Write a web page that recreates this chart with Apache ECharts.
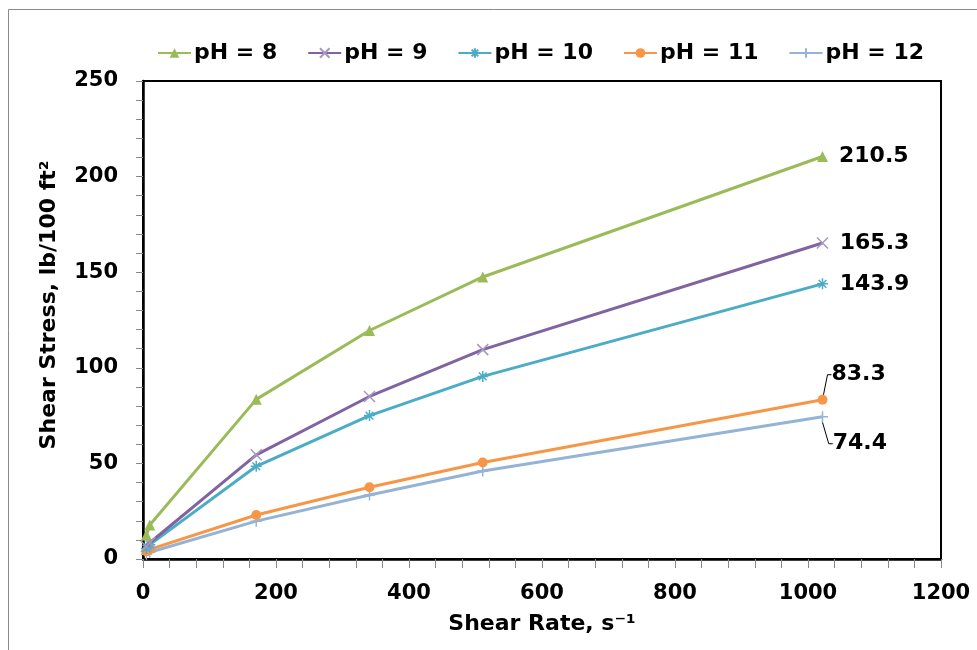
<!DOCTYPE html>
<html>
<head>
<meta charset="utf-8">
<script src="https://cdn.jsdelivr.net/npm/echarts@6/dist/echarts.min.js"></script>
<style>
  html, body { margin: 0; padding: 0; background: #fff; }
  #chart { width: 977px; height: 650px; }
</style>
</head>
<body>
<div id="chart"></div>
<script>
// shear rates (s^-1) from viscometer readings
const shearRate = [5.11, 10.22, 170.3, 340.6, 510.9, 1021.8]
const names = ['pH = 8', 'pH = 9', 'pH = 10', 'pH = 11', 'pH = 12']
const ph8 = [12.5, 17.8, 83.5, 119.5, 147.5, 210.5]
const ph9 = [6.5, 8.5, 54.5, 85, 109.5, 165.3]
const ph10 = [5.5, 7.5, 48.5, 75, 95.5, 143.9]
const ph11 = [4, 5, 23, 37.5, 50.5, 83.3]
const ph12 = [2.5, 3.5, 19.8, 33.5, 46, 74.4]
const xTicks = [0, 200, 400, 600, 800, 1000, 1200]
const yTicks = [0, 50, 100, 150, 200, 250]

const FONT = 'DejaVu Sans'
const colors = ['#9BBB59', '#8064A2', '#4BACC6', '#F79646', '#95B3D7']
const markColors = ['#9BBB59', '#A898C0', '#4BACC6', '#F79646', '#95B3D7']
const symbols = [
  'triangle',
  'path://M0,0L10,10M10,0L0,10',
  'path://M5,0L5,10M0,5L10,5M1.5,1.5L8.5,8.5M8.5,1.5L1.5,8.5',
  'circle',
  'path://M5,0L5,10M0,5L10,5'
]
const sizes = [11, 11, 11, 10, 11]
// how the end label of each series sits next to its point
const endLabel = [
  { dy: 0, line: false },
  { dy: 0, line: false },
  { dy: 0, line: false },
  { dy: -25, line: true },
  { dy: 27, line: true }
]

const chart = echarts.init(document.getElementById('chart'))

function makeSeries(values, i) {
  const filled = symbols[i] === 'triangle' || symbols[i] === 'circle'
  const data = values.map((v, k) => {
    const d = { value: [shearRate[k], v] }
    if (k === values.length - 1) {
      d.label = {
        show: true,
        position: 'right',
        distance: endLabel[i].line ? 4 : 11,
        formatter: p => p.value[1].toFixed(1),
        color: '#000',
        fontFamily: FONT,
        fontWeight: 'bold',
        fontSize: 22
      }
      d.labelLine = {
        show: endLabel[i].line,
        length2: 4,
        lineStyle: { color: '#000', width: 1 }
      }
    }
    return d
  })
  return {
    name: names[i],
    type: 'line',
    data: data,
    symbol: symbols[i],
    symbolSize: sizes[i],
    showAllSymbol: true,
    lineStyle: { color: colors[i], width: 3 },
    itemStyle: filled
      ? { color: colors[i] }
      : { color: colors[i], borderColor: markColors[i], borderWidth: 1.5 },
    labelLayout: endLabel[i].dy ? { dy: endLabel[i].dy } : null,
    emphasis: { disabled: true },
    z: 10 - i
  }
}

const axisText = { color: '#000', fontFamily: FONT, fontWeight: 'bold', fontSize: 21 }
const nameText = { color: '#000', fontFamily: FONT, fontWeight: 'bold', fontSize: 22 }

chart.setOption({
  animation: false,
  backgroundColor: '#fff',
  graphic: [{
    type: 'rect',
    shape: { x: 8.5, y: 9.5, width: 1000, height: 700 },
    style: { fill: 'none', stroke: '#8a8a8a', lineWidth: 1 },
    silent: true
  }],
  legend: {
    left: 152,
    top: 37,
    itemWidth: 33,
    itemHeight: 12,
    itemGap: 30,
    data: names,
    textStyle: { color: '#000', fontFamily: FONT, fontWeight: 'bold', fontSize: 22, padding: [0, 0, 0, -2] }
  },
  grid: {
    left: 143, top: 81, right: 36, bottom: 91,
    show: true, borderColor: '#000', borderWidth: 2,
    containLabel: false
  },
  xAxis: {
    type: 'value',
    min: 0, max: 1200, interval: 200,
    name: 'Shear Rate, s\u207B\u00B9',
    nameLocation: 'middle',
    nameGap: 54,
    nameTextStyle: nameText,
    axisLine: { show: true, lineStyle: { color: '#000', width: 2.5 } },
    axisTick: { show: true, length: 9, lineStyle: { color: '#888', width: 1 } },
    minorTick: { show: true, splitNumber: 5, length: 9, lineStyle: { color: '#888', width: 1 } },
    axisLabel: Object.assign({ margin: 24, formatter: v => xTicks.includes(v) ? String(v) : '' }, axisText),
    splitLine: { show: false }
  },
  yAxis: {
    type: 'value',
    min: 0, max: 250, interval: 50,
    name: 'Shear Stress, lb/100 ft\u00B2',
    nameLocation: 'middle',
    nameGap: 83,
    nameRotate: 90,
    nameTextStyle: Object.assign({ padding: [0, 0, 0, 30] }, nameText),
    axisLine: { show: true, lineStyle: { color: '#000', width: 2.5 } },
    axisTick: { show: true, length: 7, lineStyle: { color: '#888', width: 1 } },
    minorTick: { show: true, splitNumber: 5, length: 7, lineStyle: { color: '#888', width: 1 } },
    axisLabel: Object.assign({ margin: 25, formatter: v => yTicks.includes(v) ? String(v) : '' }, axisText),
    splitLine: { show: false }
  },
  series: [ph8, ph9, ph10, ph11, ph12].map(makeSeries)
})
</script>
</body>
</html>
